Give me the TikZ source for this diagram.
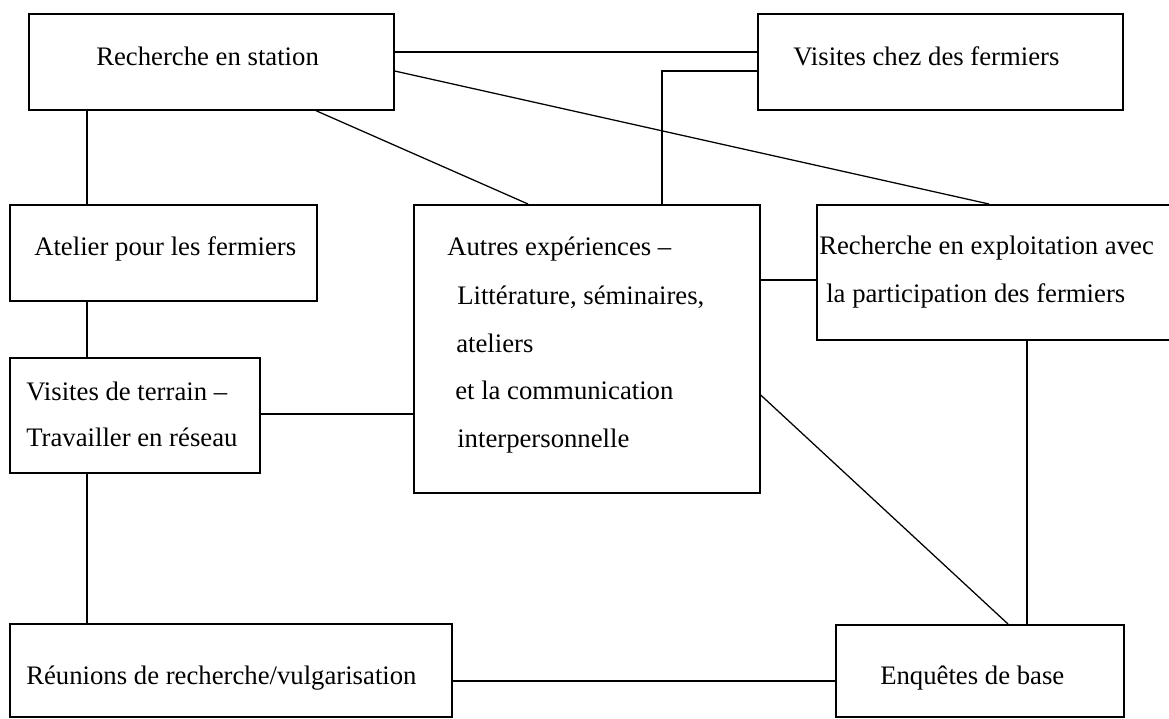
\documentclass[tikz,border=0pt]{standalone}
\usepackage{fontspec}
\setmainfont{Liberation Serif}
\usepackage{tikz}
\usetikzlibrary{calc}
\def\px{0.025cm}
\tikzset{boite/.style={draw,line width=1.2pt,inner sep=0pt,anchor=north west},
texte/.style={anchor=base west,inner sep=0pt,font=\fontsize{19}{23}\selectfont},
lien/.style={line width=0.9pt}}

\begin{document}
\begin{tikzpicture}[x=\px,y=-\px]%schema des liens
\useasboundingbox (0,0) rectangle (1169,718);
\node[boite,minimum width=365*\px,minimum height=96*\px] (stat) at (28,13) {};
\node[boite,minimum width=365*\px,minimum height=96*\px] (visit) at (757,13) {};
\node[boite,minimum width=307*\px,minimum height=96*\px] (atel) at (9,204) {};
\node[boite,minimum width=346*\px,minimum height=288*\px] (autres) at (413,204) {};
\node[boite,minimum width=370*\px,minimum height=135*\px] (explo) at (816,204) {};
\node[boite,minimum width=250*\px,minimum height=115*\px] (terrain) at (9,357) {};
\node[boite,minimum width=442*\px,minimum height=93*\px] (reun) at (9,623) {};
\node[boite,minimum width=288*\px,minimum height=92*\px] (enq) at (835,624) {};
\node[texte] (stat-t) at (96,65) {Recherche en station};
\node[texte] (visit-t) at (793,65) {Visites chez des fermiers};
\node[texte] (atel-t) at (34,255) {Atelier pour les fermiers};
\node[texte] (autres-a) at (447,255) {Autres expériences –};
\node[texte] (autres-b) at (457,304) {Littérature, séminaires,};
\node[texte] (autres-c) at (456,352) {ateliers};
\node[texte] (autres-d) at (455,399) {et la communication};
\node[texte] (autres-e) at (457,447) {interpersonnelle};
\node[texte] (explo-a) at (819,254) {Recherche en exploitation avec};
\node[texte] (explo-b) at (826,302) {la participation des fermiers};
\node[texte] (terrain-a) at (26,400) {Visites de terrain –};
\node[texte] (terrain-b) at (26,446) {Travailler en réseau};
\node[texte] (reun-t) at (26,684) {Réunions de recherche/vulgarisation};
\node[texte] (enq-t) at (880,684) {Enquêtes de base};
\draw[lien] ($(stat.north east)+(0,39)$) coordinate (c1) -- (c1 -| visit.west);
\draw[lien] ($(autres.north west)+(249,0)$) |- ($(visit.north west)+(0,58)$);
\draw[lien] ($(stat.south west)+(59,0)$) coordinate (c2) -- (c2 |- atel.north);
\draw[lien] ($(stat.south west)+(288,0)$) -- ($(autres.north west)+(115,0)$);
\draw[lien] ($(stat.north east)+(0,58)$) -- ($(explo.north west)+(173,0)$);
\draw[lien] ($(atel.south west)+(78,0)$) coordinate (c3) -- (c3 |- terrain.north);
\draw[lien] ($(terrain.north east)+(0,57)$) coordinate (c4) -- (c4 -| autres.west);
\draw[lien] ($(terrain.south west)+(78,0)$) coordinate (c5) -- (c5 |- reun.north);
\draw[lien] ($(reun.north east)+(0,58)$) coordinate (c6) -- (c6 -| enq.west);
\draw[lien] ($(autres.north east)+(0,76)$) coordinate (c7) -- (c7 -| explo.west);
\draw[lien] ($(autres.north east)+(0,191)$) -- ($(enq.north west)+(173,0)$);
\draw[lien] ($(explo.south west)+(211,0)$) coordinate (c8) -- (c8 |- enq.north);
\end{tikzpicture}
\end{document}
